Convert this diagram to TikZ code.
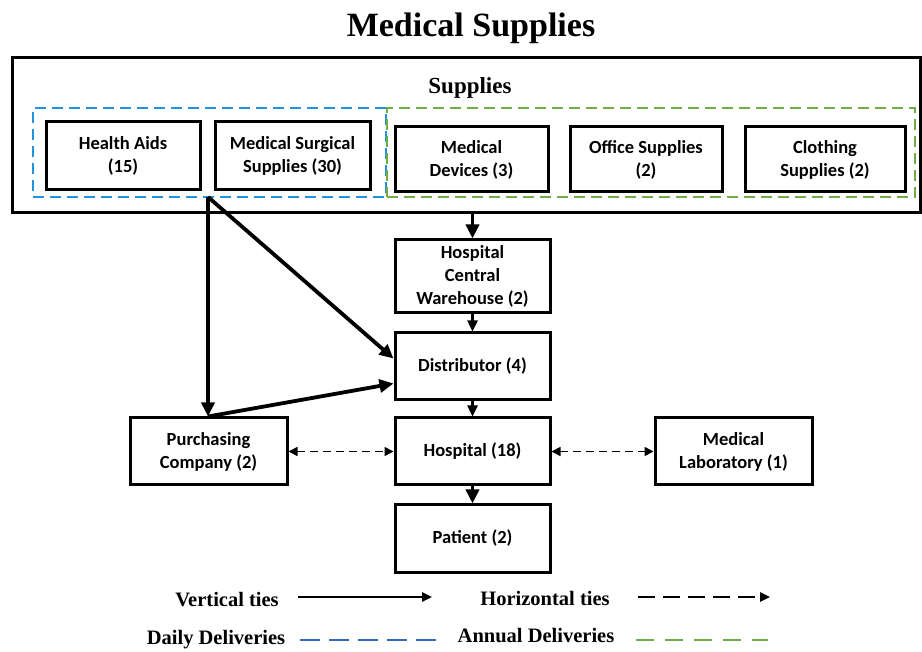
\documentclass[tikz,border=0pt]{standalone}
\usepackage{fontspec}
\setmainfont{Liberation Serif}
\newfontfamily\boxfont{Carlito}
\usetikzlibrary{arrows.meta}
\definecolor{dailyblue}{HTML}{1F93E0}
\definecolor{legblue}{HTML}{2F6CC0}
\definecolor{annualgreen}{HTML}{70AD47}
\tikzset{
  box/.style={draw, line width=3pt, inner sep=0pt, align=center,
    font=\boxfont\bfseries\fontsize{18.5}{23}\selectfont},
  thick arrow/.style={line width=3.8pt, -{Triangle[length=14pt,width=13pt]}},
  thin arrow/.style={line width=2.4pt, -{Triangle[length=11pt,width=10pt]}},
  tie/.style={line width=1.7pt, dash pattern=on 8pt off 5pt, {Triangle[length=9pt,width=9pt]}-{Triangle[length=9pt,width=9pt]}},
  legtext/.style={font=\bfseries\fontsize{20.5}{24}\selectfont, inner sep=0pt},
  delivbox/.style={line width=2.8pt, dash pattern=on 11pt off 6pt, inner sep=0pt}
}
\begin{document}
\begin{tikzpicture}[x=1pt,y=-1pt]
\useasboundingbox (0,0) rectangle (922,652);
% title
\node[font=\bfseries\fontsize{34}{40}\selectfont, inner sep=0pt] (title) at (471,28) {Medical Supplies};
% outer supplies box
\node[draw, line width=3pt, minimum width=908pt, minimum height=155pt, inner sep=0pt] (sup) at (466,135.5) {};
\node[font=\bfseries\fontsize{23}{28}\selectfont, inner sep=0pt] (suplabel) at (470,88) {Supplies};
% delivery groups
\node[draw=dailyblue, delivbox, minimum width=353pt, minimum height=89pt] (daily) at (209.5,152.5) {};
\node[draw=annualgreen, delivbox, minimum width=528pt, minimum height=89pt] (annual) at (651,152.5) {};
% supply boxes
\node[box, minimum width=154pt, minimum height=68pt] (ha) at (123,156) {Health Aids\\(15)};
\node[box, minimum width=155pt, minimum height=68pt] (ms) at (292.5,156) {Medical Surgical\\Supplies (30)};
\node[box, minimum width=153pt, minimum height=65pt] (md) at (471.5,159.5) {Medical\\Devices (3)};
\node[box, minimum width=152pt, minimum height=65pt] (os) at (646,159.5) {Office Supplies\\(2)};
\node[box, minimum width=160pt, minimum height=65pt] (cs) at (825,159.5) {Clothing\\Supplies (2)};
% chain
\node[box, minimum width=155pt, minimum height=73pt] (hcw) at (472.5,276.5) {Hospital\\Central\\Warehouse (2)};
\node[box, minimum width=155pt, minimum height=67pt] (dist) at (472.5,366.5) {Distributor (4)};
\node[box, minimum width=155pt, minimum height=67pt] (hosp) at (472.5,451.5) {Hospital (18)};
\node[box, minimum width=155pt, minimum height=67pt] (pat) at (472.5,538.5) {Patient (2)};
\node[box, minimum width=157pt, minimum height=67pt] (pc) at (208.5,451.5) {Purchasing\\Company (2)};
\node[box, minimum width=157pt, minimum height=67pt] (ml) at (733.5,451.5) {Medical\\Laboratory (1)};
% connectors
\coordinate (split) at (208,197);
\draw[thick arrow] (sup.south -| hcw.north) -- (hcw.north);
\draw[thin arrow] (hcw.south) -- (dist.north);
\draw[thin arrow] (dist.south) -- (hosp.north);
\draw[thick arrow] (hosp.south) -- (pat.north);
\draw[thick arrow] (split) -- (split |- pc.north);
\draw[thick arrow] (split) -- ([yshift=8pt]dist.west);
\draw[thick arrow] (split |- pc.north) -- ([yshift=-17pt]dist.west);
\draw[tie] (pc.east) -- (hosp.west);
\draw[tie] (hosp.east) -- (ml.west);
% legend
\node[legtext] (lv) at (227,600) {Vertical ties};
\coordinate (lva) at (298,597);
\coordinate (lvb) at (432,597);
\draw[line width=2.4pt, -{Triangle[length=10pt,width=9pt]}] (lva) -- (lvb);
\node[legtext] (lh) at (545,598) {Horizontal ties};
\coordinate (lha) at (638,597);
\coordinate (lhb) at (770,597);
\draw[line width=2.4pt, dash pattern=on 17pt off 8pt, -{Triangle[length=10pt,width=9pt]}] (lha) -- (lhb);
\node[legtext] (ld) at (216,640) {Daily Deliveries};
\coordinate (lda) at (300,640);
\coordinate (ldb) at (437,640);
\draw[legblue, line width=2.6pt, dash pattern=on 20pt off 9pt] (lda) -- (ldb);
\node[legtext] (la) at (536,636) {Annual Deliveries};
\coordinate (laa) at (636,640);
\coordinate (lab) at (768,640);
\draw[annualgreen, line width=2.6pt, dash pattern=on 18pt off 11pt] (laa) -- (lab);
\end{tikzpicture}
\end{document}
